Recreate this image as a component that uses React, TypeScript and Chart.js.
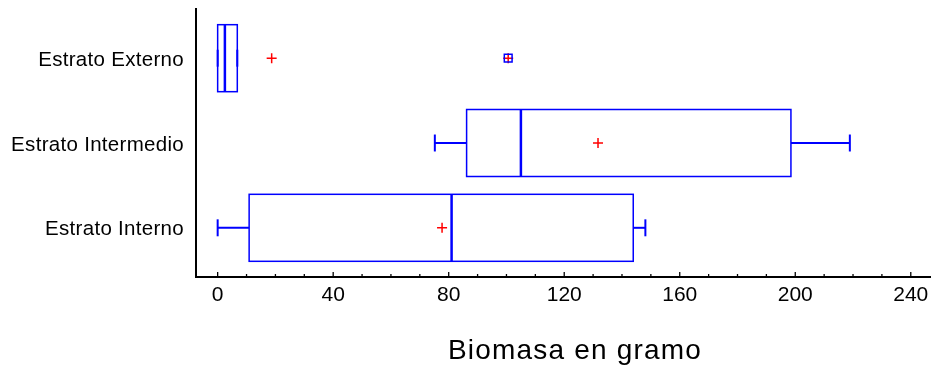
import React, { useEffect, useRef } from 'react';
import { Chart, registerables } from 'chart.js';

Chart.register(...registerables);

// ---- data ----
const categories = ['Estrato Interno', 'Estrato Intermedio', 'Estrato Externo'];
const catPos = [1, 2, 3];
const minVals = [0, 75.2, 0];
const q1Vals = [10.9, 86.2, 0];
const medianVals = [81.0, 105.0, 2.5];
const q3Vals = [143.9, 198.5, 6.8];
const maxVals = [148.1, 218.9, 6.8];
const meanVals = [77.7, 131.7, 18.7];
const outlierCat = [3];
const outlierVals = [100.6];
const xTicks = [0, 40, 80, 120, 160, 200, 240];
const xMinorStep = 10;
const xTitle = 'Biomasa en gramo';

// ---- styling ----
const BLUE = '#0000ff';
const RED = '#ff0000';
const BOX_HALF = 0.395;
const CAP_HALF = 0.1;
const FONT = '"Liberation Sans", Arial, sans-serif';

const boxPlugin = {
  id: 'boxes',
  beforeDatasetsDraw(chart: any) {
    const { ctx, scales } = chart;
    const x = scales.x;
    const y = scales.y;
    const px = (v: number) => x.getPixelForValue(v);
    const line = (x1: number, y1: number, x2: number, y2: number) => {
      ctx.beginPath();
      ctx.moveTo(x1, y1);
      ctx.lineTo(x2, y2);
      ctx.stroke();
    };
    ctx.save();
    ctx.strokeStyle = BLUE;
    for (let i = 0; i < catPos.length; i++) {
      const c = catPos[i];
      const yc = y.getPixelForValue(c);
      const yt = y.getPixelForValue(c + BOX_HALF);
      const yb = y.getPixelForValue(c - BOX_HALF);
      const ct = y.getPixelForValue(c + CAP_HALF);
      const cb = y.getPixelForValue(c - CAP_HALF);
      // whiskers
      ctx.lineWidth = 2;
      line(px(minVals[i]), yc, px(q1Vals[i]), yc);
      line(px(q3Vals[i]), yc, px(maxVals[i]), yc);
      line(px(minVals[i]), ct, px(minVals[i]), cb);
      line(px(maxVals[i]), ct, px(maxVals[i]), cb);
      // box
      ctx.lineWidth = 1.5;
      ctx.strokeRect(px(q1Vals[i]), yt, px(q3Vals[i]) - px(q1Vals[i]), yb - yt);
      // median
      ctx.lineWidth = 2.5;
      line(px(medianVals[i]), yt, px(medianVals[i]), yb);
    }
    ctx.restore();
  },
  afterDraw(chart: any) {
    const { ctx, scales, chartArea } = chart;
    const x = scales.x;
    const y = scales.y;
    ctx.save();
    // inward x ticks
    ctx.strokeStyle = '#000';
    ctx.lineWidth = 1.3;
    const base = chartArea.bottom;
    for (let v = xTicks[0]; v <= xTicks[xTicks.length - 1]; v += xMinorStep) {
      const p = x.getPixelForValue(v);
      const major = xTicks.includes(v);
      ctx.beginPath();
      ctx.moveTo(p, base);
      ctx.lineTo(p, base - (major ? 5 : 3));
      ctx.stroke();
    }
    // category labels
    ctx.fillStyle = '#000';
    ctx.font = `20.5px ${FONT}`;
    (ctx as any).letterSpacing = '0.3px';
    ctx.textAlign = 'right';
    ctx.textBaseline = 'alphabetic';
    for (let i = 0; i < catPos.length; i++) {
      ctx.fillText(categories[i], 184, y.getPixelForValue(catPos[i]) + 7.5);
    }
    // axis title
    ctx.font = `28px ${FONT}`;
    (ctx as any).letterSpacing = '1.2px';
    ctx.textAlign = 'center';
    ctx.fillText(xTitle, 575, 359);
    (ctx as any).letterSpacing = '0px';
    ctx.restore();
  },
};

export default function App() {
  const ref = useRef<HTMLCanvasElement | null>(null);
  useEffect(() => {
    if (!ref.current) return;
    const chart = new Chart(ref.current, {
      type: 'scatter',
      data: {
        datasets: [
          {
            label: 'Media',
            data: meanVals.map((v, i) => ({ x: v, y: catPos[i] })),
            pointStyle: 'cross',
            radius: 5,
            borderColor: RED,
            borderWidth: 1.5,
            backgroundColor: RED,
          },
          {
            label: 'Atípico',
            data: outlierVals.map((v, i) => ({ x: v, y: outlierCat[i] })),
            pointStyle: 'rect',
            radius: 5.5,
            borderColor: BLUE,
            borderWidth: 1.5,
            backgroundColor: 'rgba(0,0,0,0)',
          },
          {
            label: 'Atípico +',
            data: outlierVals.map((v, i) => ({ x: v, y: outlierCat[i] })),
            pointStyle: 'cross',
            radius: 5,
            borderColor: RED,
            borderWidth: 1.5,
            backgroundColor: RED,
          },
        ],
      },
      options: {
        responsive: false,
        animation: false,
        devicePixelRatio: 1,
        layout: { autoPadding: false, padding: { top: 9, left: 0, right: 0, bottom: 0 } },
        plugins: { legend: { display: false }, tooltip: { enabled: false }, title: { display: false } },
        events: [],
        scales: {
          x: {
            type: 'linear',
            min: -7.5,
            max: 247,
            afterBuildTicks: (s: any) => {
              s.ticks = xTicks.map((v) => ({ value: v }));
            },
            grid: { display: false, drawTicks: false },
            border: { display: true, color: '#000', width: 2 },
            ticks: { color: '#000', padding: 6, font: { family: FONT, size: 21 }, maxRotation: 0, autoSkip: false },
            afterFit: (s: any) => {
              s.height = 89;
              s.paddingLeft = 0;
              s.paddingRight = 0;
            },
          },
          y: {
            type: 'linear',
            min: 0.42,
            max: 3.58,
            grid: { display: false, drawTicks: false },
            border: { display: true, color: '#000', width: 2 },
            ticks: { display: false },
            afterFit: (s: any) => {
              s.width = 196;
              s.paddingTop = 0;
              s.paddingBottom = 0;
            },
          },
        },
      } as any,
      plugins: [boxPlugin],
    });
    return () => chart.destroy();
  }, []);
  return (
    <canvas
      ref={ref}
      width={931}
      height={366}
      style={{ position: 'absolute', left: 0, top: 0, width: 931, height: 366 }}
    />
  );
}
